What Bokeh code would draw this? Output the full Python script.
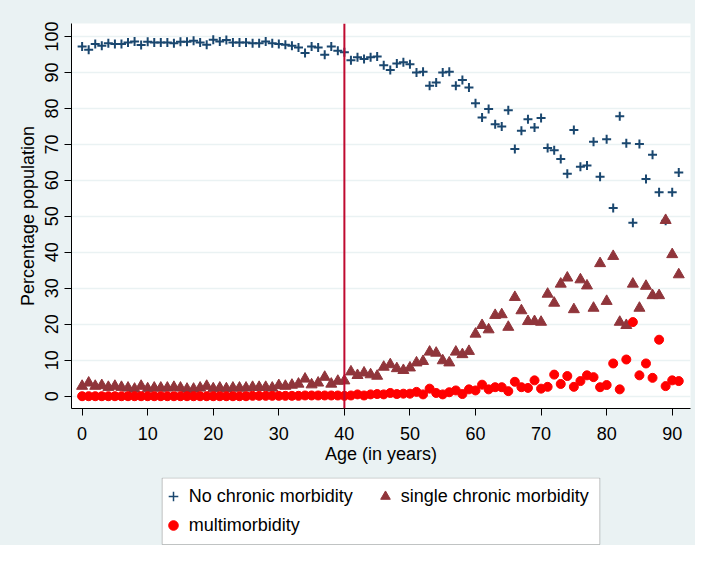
from bokeh.plotting import figure
from bokeh.models import Span, Legend, LegendItem, FixedTicker, Range1d, BoxAnnotation
from bokeh.layouts import column
from bokeh.embed import file_html
from bokeh.resources import INLINE

# ---- data ----
ages = list(range(92))
no_chronic = [
    97.2, 96.3, 97.9, 97.4, 98.1, 97.9, 97.9, 98.3, 98.6, 97.6,
    98.5, 98.3, 98.3, 98.3, 98.1, 98.5, 98.5, 98.8, 98.3, 97.7,
    99.1, 98.6, 99.0, 98.3, 98.3, 98.3, 98.1, 98.1, 98.6, 98.1,
    97.9, 97.7, 97.4, 96.9, 95.4, 97.2, 96.9, 94.9, 97.2, 96.0,
    95.6, 93.4, 94.2, 93.7, 94.2, 94.4, 92.0, 90.7, 92.5, 92.8,
    92.3, 90.0, 90.2, 86.3, 87.2, 90.0, 90.2, 86.3, 87.9, 85.8,
    81.4, 77.5, 79.8, 75.6, 75.0, 79.5, 68.7, 73.8, 77.0, 74.7,
    77.3, 69.0, 68.4, 65.9, 61.8, 74.0, 63.8, 64.1, 70.7, 61.0,
    71.4, 52.3, 77.8, 70.3, 48.2, 70.1, 60.4, 67.1, 56.7, 48.8,
    56.7, 62.2,
]
single_chronic = [
    2.8, 3.7, 2.8, 3.0, 2.5, 2.8, 2.5, 2.3, 2.0, 2.8,
    2.1, 2.3, 2.3, 2.3, 2.5, 2.3, 2.0, 2.0, 2.3, 2.8,
    2.1, 2.3, 2.1, 2.3, 2.3, 2.3, 2.5, 2.5, 2.5, 2.3,
    3.0, 2.8, 3.1, 3.4, 4.8, 3.2, 3.7, 5.3, 3.4, 4.2,
    4.3, 6.8, 5.8, 6.5, 6.0, 5.6, 8.1, 8.8, 7.7, 7.2,
    7.9, 9.3, 9.7, 12.3, 12.0, 9.9, 9.3, 12.3, 11.6, 12.5,
    17.3, 19.7, 18.5, 22.5, 22.7, 19.2, 27.5, 23.8, 20.8, 20.8,
    20.6, 28.4, 25.9, 31.2, 32.9, 24.1, 32.4, 30.7, 24.5, 36.9,
    26.4, 38.9, 20.6, 19.7, 31.2, 24.5, 30.6, 28.0, 28.0, 48.9,
    39.4, 33.8,
]
multimorbidity = [
    0.0, 0.0, 0.0, 0.0, 0.0, 0.0, 0.0, 0.0, 0.0, 0.0,
    0.0, 0.0, 0.0, 0.0, 0.0, 0.0, 0.0, 0.0, 0.0, 0.0,
    0.0, 0.0, 0.0, 0.0, 0.0, 0.0, 0.1, 0.1, 0.1, 0.1,
    0.1, 0.1, 0.1, 0.1, 0.2, 0.2, 0.2, 0.2, 0.2, 0.2,
    0.1, 0.2, 0.5, 0.2, 0.5, 0.6, 0.5, 0.9, 0.6, 0.7,
    0.7, 1.2, 0.5, 2.1, 0.9, 0.5, 1.1, 1.6, 0.6, 1.9,
    1.6, 3.2, 1.9, 2.5, 2.5, 1.4, 4.0, 2.5, 2.3, 4.4,
    2.1, 2.6, 6.0, 3.4, 5.6, 2.6, 4.2, 5.8, 5.3, 2.5,
    3.1, 9.1, 1.9, 10.2, 20.6, 5.8, 9.1, 5.1, 15.7, 2.8,
    4.4, 4.2,
]
x_ticks = [0, 10, 20, 30, 40, 50, 60, 70, 80, 90]
y_ticks = [0, 10, 20, 30, 40, 50, 60, 70, 80, 90, 100]
cutoff_age = 40
series_labels = ["No chronic morbidity", "single chronic morbidity", "multimorbidity"]

# ---- style / layout ----
BG = "#EAF2F3"
FONT = "Liberation Sans"
C_NONE, C_SINGLE, C_MULTI = "#1A476F", "#90353B", "#FF0000"
W = 695
LEFT, RIGHT, TOP = 71, 5, 23
FRAME_H = 385
H_MAIN = 477
H_LEG = 545 - H_MAIN

p = figure(
    width=W, height=H_MAIN, output_backend="svg", toolbar_location=None,
    x_range=Range1d(-1.62, 92.79), y_range=Range1d(-3.42, 103.6),
    min_border_left=LEFT, min_border_right=RIGHT, min_border_top=TOP,
    min_border_bottom=H_MAIN - TOP - FRAME_H,
)
p.background_fill_color = "white"
p.border_fill_color = BG
p.outline_line_color = None

p.xgrid.grid_line_color = None
p.ygrid.grid_line_color = BG
p.ygrid.grid_line_width = 1.5
p.ygrid.ticker = FixedTicker(ticks=y_ticks)

p.xaxis.ticker = FixedTicker(ticks=x_ticks)
p.yaxis.ticker = FixedTicker(ticks=y_ticks)
for ax in (p.xaxis, p.yaxis):
    ax.major_tick_out = 7
    ax.major_tick_in = 0
    ax.minor_tick_out = 0
    ax.minor_tick_in = 0
    ax.axis_line_color = "black"
    ax.major_tick_line_color = "black"
    ax.major_label_text_font = FONT
    ax.major_label_text_font_size = "18px"
    ax.major_label_text_color = "black"
    ax.axis_label_text_font = FONT
    ax.axis_label_text_font_size = "18px"
    ax.axis_label_text_font_style = "normal"
    ax.axis_label_text_color = "black"

p.xaxis.axis_label = "Age (in years)"
p.yaxis.axis_label = "Percentage population"
p.xaxis.major_label_standoff = 11
p.xaxis.axis_label_standoff = 1
p.yaxis.major_label_standoff = 6
p.yaxis.axis_label_standoff = 5
p.yaxis.major_label_orientation = "parallel"

p.scatter(ages, no_chronic, marker="cross", size=9, line_width=2, color=C_NONE)
p.scatter(ages, single_chronic, marker="triangle", size=11, color=C_SINGLE)
p.scatter(ages, multimorbidity, marker="circle", size=9, color=C_MULTI)

p.add_layout(Span(location=cutoff_age, dimension="height", line_color="#BF0A30", line_width=2))

# ---- legend strip (frame aligned with main frame: data x == screen x) ----
leg = figure(
    width=W, height=H_LEG, output_backend="svg", toolbar_location=None,
    x_range=Range1d(LEFT, W - RIGHT), y_range=Range1d(H_LEG, 0),
    x_axis_location=None, y_axis_location=None,
    min_border_left=LEFT, min_border_right=RIGHT, min_border_top=0, min_border_bottom=0,
)
leg.background_fill_color = BG
leg.border_fill_color = BG
leg.outline_line_color = None
leg.grid.grid_line_color = None

leg.add_layout(BoxAnnotation(left=161.7, right=599.3, top=0.5, bottom=67,
                             fill_color="white", fill_alpha=1.0,
                             line_color="#444444", line_width=1))

nan = float("nan")
e1 = leg.scatter([nan], [nan], marker="cross", size=9, line_width=1.5, color=C_NONE)
e2 = leg.scatter([nan], [nan], marker="triangle", size=11, color=C_SINGLE)
e3 = leg.scatter([nan], [nan], marker="circle", size=9, color=C_MULTI)

legend = Legend(
    items=[LegendItem(label=series_labels[0], renderers=[e1]),
           LegendItem(label=series_labels[1], renderers=[e2]),
           LegendItem(label=series_labels[2], renderers=[e3])],
    orientation="horizontal", ncols=2,
    location=(89.7, 8),
    padding=0, spacing=5, margin=0,
    glyph_width=24, glyph_height=24, label_height=24, label_width=179,
    label_standoff=4,
    label_text_font=FONT, label_text_font_size="18px", label_text_color="black",
    border_line_color=None, background_fill_alpha=0.0,
)
leg.add_layout(legend)

layout = column(p, leg, spacing=0, styles={"background-color": BG})
open("out.html", "w").write(file_html(layout, INLINE))
